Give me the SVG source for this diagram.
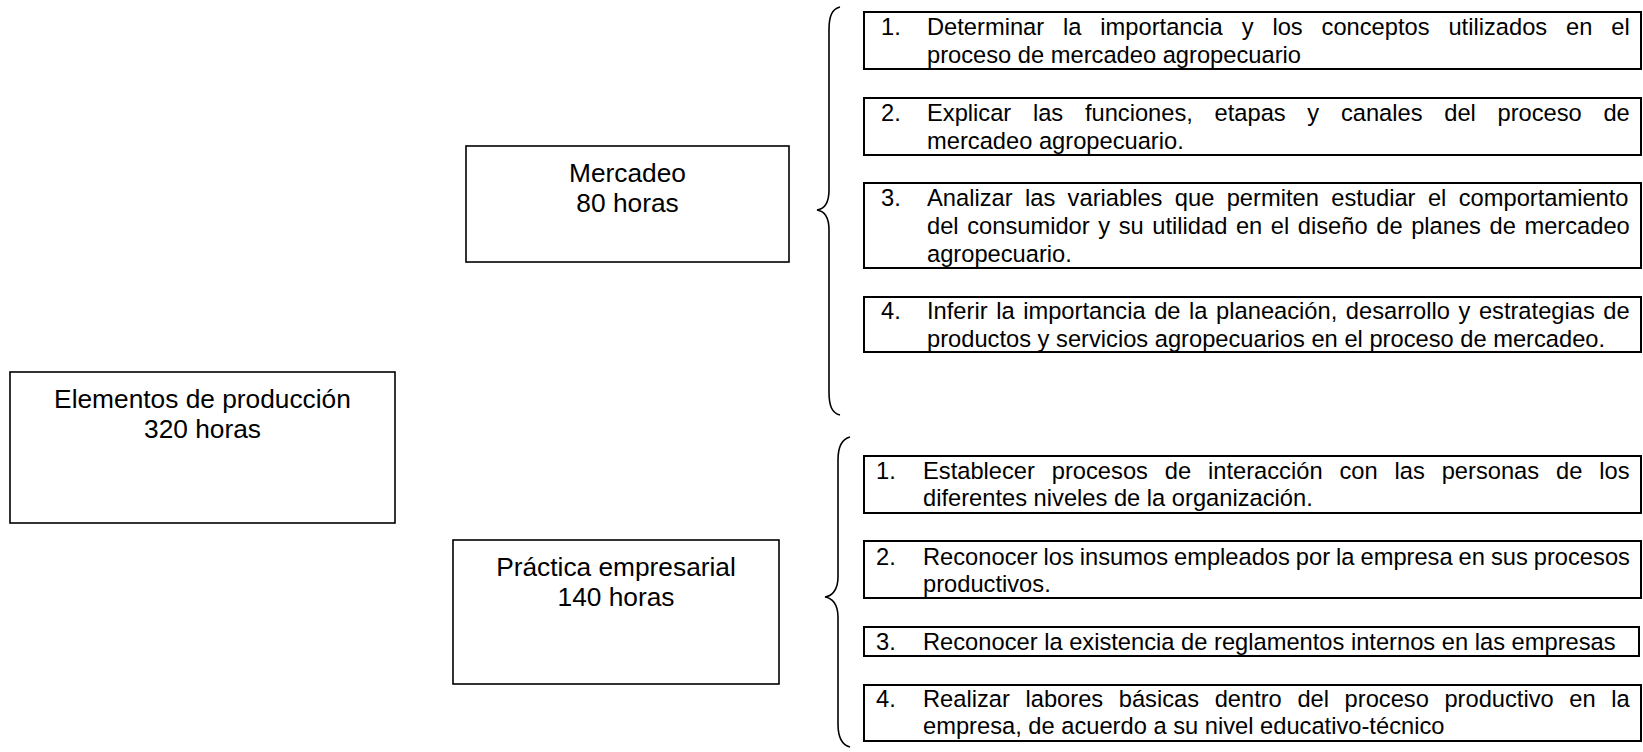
<svg xmlns="http://www.w3.org/2000/svg" width="1643" height="752" viewBox="0 0 1643 752">
<style>
.box{fill:#fff;stroke:#000;stroke-width:2}
.big{fill:#fff;stroke:#000;stroke-width:1.6}
.brace{fill:none;stroke:#000;stroke-width:1.6}
.lbl{font-family:"Liberation Sans",Arial,sans-serif;font-size:26.3px;fill:#000;text-anchor:middle}
.it{font-family:"Liberation Sans",Arial,sans-serif;font-size:23.7px;fill:#000}
</style>
<rect width="1643" height="752" fill="#fff"/>
<g id="connectors">
<path class="brace" d="M840,7 C832,9 829,16 829,30 L829,190 C829,203 824,209 817,210 C824,211 829,217 829,230 L829,392 C829,406 832,413 840,415"/>
<path class="brace" d="M850,437 C842,439 838,446 838,460 L838,577 C838,590 832,596 825,597 C832,598 838,604 838,617 L838,724 C838,738 842,745 850,747"/>
</g>
<g id="elementos">
<rect class="big" x="10" y="372" width="385" height="151"/>
<text class="lbl" x="202.5" y="408">Elementos de producción</text>
<text class="lbl" x="202.5" y="438">320 horas</text>
</g>
<g id="mercadeo">
<rect class="big" x="466" y="146" width="323" height="116"/>
<text class="lbl" x="627.5" y="182">Mercadeo</text>
<text class="lbl" x="627.5" y="212">80 horas</text>
</g>
<g id="practica">
<rect class="big" x="453" y="540" width="326" height="144"/>
<text class="lbl" x="616" y="576">Práctica empresarial</text>
<text class="lbl" x="616" y="606">140 horas</text>
</g>
<g id="m1">
<rect class="box" x="864" y="12" width="777" height="57"/>
<text class="it" x="881" y="35">1.</text>
<text class="it" x="927" y="35" word-spacing="12.3">Determinar la importancia y los conceptos utilizados en el</text>
<text class="it" x="927" y="63">proceso de mercadeo agropecuario</text>
</g>
<g id="m2">
<rect class="box" x="864" y="98" width="777" height="57"/>
<text class="it" x="881" y="121">2.</text>
<text class="it" x="927" y="121" word-spacing="15.1">Explicar las funciones, etapas y canales del proceso de</text>
<text class="it" x="927" y="149">mercadeo agropecuario.</text>
</g>
<g id="m3">
<rect class="box" x="864" y="183" width="777" height="85"/>
<text class="it" x="881" y="206">3.</text>
<text class="it" x="927" y="206" word-spacing="5.8">Analizar las variables que permiten estudiar el comportamiento</text>
<text class="it" x="927" y="234" word-spacing="2">del consumidor y su utilidad en el diseño de planes de mercadeo</text>
<text class="it" x="927" y="262">agropecuario.</text>
</g>
<g id="m4">
<rect class="box" x="864" y="297" width="777" height="55"/>
<text class="it" x="881" y="319">4.</text>
<text class="it" x="927" y="319" word-spacing="2">Inferir la importancia de la planeación, desarrollo y estrategias de</text>
<text class="it" x="927" y="347">productos y servicios agropecuarios en el proceso de mercadeo.</text>
</g>
<g id="p1">
<rect class="box" x="864" y="456" width="777" height="57"/>
<text class="it" x="876" y="479">1.</text>
<text class="it" x="923" y="479" word-spacing="10.3">Establecer procesos de interacción con las personas de los</text>
<text class="it" x="923" y="506">diferentes niveles de la organización.</text>
</g>
<g id="p2">
<rect class="box" x="864" y="541" width="777" height="57"/>
<text class="it" x="876" y="565">2.</text>
<text class="it" x="923" y="565" word-spacing="-0.6">Reconocer los insumos empleados por la empresa en sus procesos</text>
<text class="it" x="923" y="592">productivos.</text>
</g>
<g id="p3">
<rect class="box" x="864" y="627" width="775" height="29"/>
<text class="it" x="876" y="650">3.</text>
<text class="it" x="923" y="650">Reconocer la existencia de reglamentos internos en las empresas</text>
</g>
<g id="p4">
<rect class="box" x="864" y="685" width="777" height="56"/>
<text class="it" x="876" y="707">4.</text>
<text class="it" x="923" y="707" word-spacing="9">Realizar labores básicas dentro del proceso productivo en la</text>
<text class="it" x="923" y="734">empresa, de acuerdo a su nivel educativo-técnico</text>
</g>
</svg>
